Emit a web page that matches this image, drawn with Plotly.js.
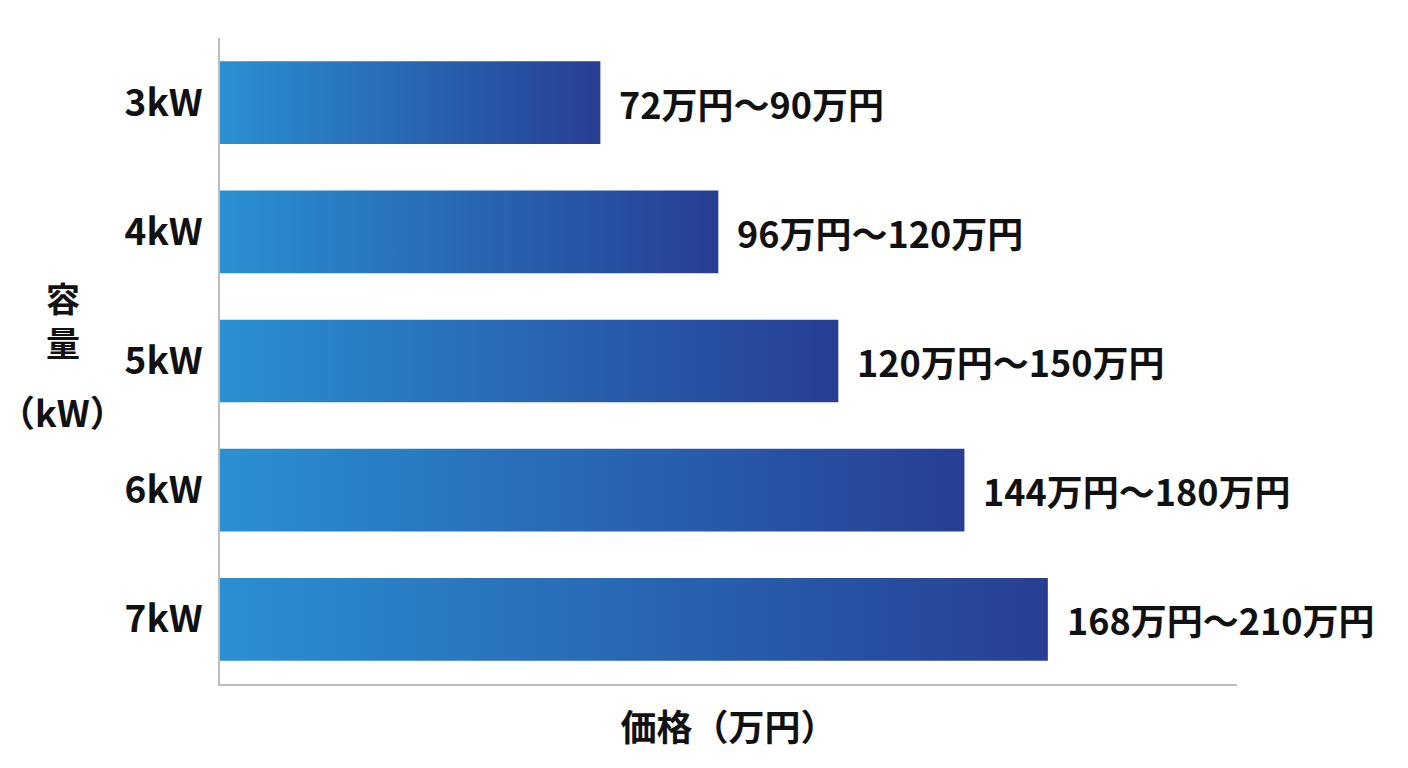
<!DOCTYPE html>
<html>
<head>
<meta charset="utf-8">
<script src="https://cdn.plot.ly/plotly-3.0.1.min.js"></script>
<style>
  html, body { margin: 0; padding: 0; background: #fff; }
  #chart { width: 1408px; height: 768px; }
</style>
</head>
<body>
<div id="chart"></div>
<script>
// capacity categories and bar lengths (in 万円-ish scale)
let capacities = ["3kW", "4kW", "5kW", "6kW", "7kW"];
let barValues = [93.5, 122.5, 152, 183, 203.5];
let priceLabels = ["72万円～90万円", "96万円～120万円", "120万円～150万円", "144万円～180万円", "168万円～210万円"];

let font = "'Noto Sans CJK JP', 'Noto Sans', sans-serif";

let trace = {
    type: "bar",
    orientation: "h",
    y: capacities,
    x: barValues,
    marker: {color: "#2766b2", line: {width: 0}},
    hoverinfo: "none"
};

// price text next to each bar
let annotations = capacities.map((cap, i) => ({
    x: barValues[i],
    y: cap,
    xref: "x",
    yref: "y",
    text: "<b>" + priceLabels[i] + "</b>",
    showarrow: false,
    xanchor: "left",
    yanchor: "middle",
    xshift: 17,
    font: {family: font, size: 36, color: "#111"}
}));

// y axis title in two pieces: 容量 stacked, then （kW）
annotations.push({
    xref: "paper", yref: "paper",
    x: -0.1544, y: 0.5,
    xanchor: "center", yanchor: "middle",
    yshift: 42,
    text: "<b>容<br>量</b>",
    showarrow: false,
    borderpad: 0,
    font: {family: font, size: 34, color: "#111"}
});
annotations.push({
    xref: "paper", yref: "paper",
    x: -0.1544, y: 0.5,
    xanchor: "center", yanchor: "middle",
    yshift: -50,
    text: "<b>（kW）</b>",
    showarrow: false,
    borderpad: 0,
    font: {family: font, size: 36, color: "#111"}
});

let layout = {
    width: 1408,
    height: 768,
    margin: {l: 220, r: 171, t: 38, b: 84},
    paper_bgcolor: "#fff",
    plot_bgcolor: "#fff",
    showlegend: false,
    bargap: 0.36,
    font: {family: font, color: "#111"},
    xaxis: {
        range: [0, 250],
        showgrid: false,
        zeroline: false,
        showticklabels: false,
        showline: true,
        linecolor: "#bdbdbd",
        linewidth: 2,
        ticks: "",
        title: {text: "<b>価格（万円）</b>", font: {family: font, size: 36, color: "#111"}, standoff: 31}
    },
    yaxis: {
        autorange: "reversed",
        showgrid: false,
        zeroline: false,
        showline: true,
        linecolor: "#bdbdbd",
        linewidth: 2,
        ticks: "outside",
        ticklen: 8,
        tickcolor: "rgba(0,0,0,0)",
        tickfont: {family: font, size: 37, color: "#111", weight: "bold"}
    },
    annotations: annotations
};

Plotly.newPlot("chart", [trace], layout, {staticPlot: true}).then(function(gd){
    // horizontal gradient on each bar
    let svg = gd.querySelector("svg.main-svg");
    let ns = "http://www.w3.org/2000/svg";
    let defs = svg.querySelector("defs") || svg.insertBefore(document.createElementNS(ns, "defs"), svg.firstChild);
    let grad = document.createElementNS(ns, "linearGradient");
    grad.setAttribute("id", "barGrad");
    grad.setAttribute("x1", "0");
    grad.setAttribute("y1", "0");
    grad.setAttribute("x2", "1");
    grad.setAttribute("y2", "0");
    [["0", "#2a90d2"], ["1", "#273e94"]].forEach(s => {
        let stop = document.createElementNS(ns, "stop");
        stop.setAttribute("offset", s[0]);
        stop.setAttribute("stop-color", s[1]);
        grad.appendChild(stop);
    });
    defs.appendChild(grad);
    gd.querySelectorAll(".bars .point path").forEach(p => {
        p.style.fill = "url(#barGrad)";
    });
});
</script>
</body>
</html>
